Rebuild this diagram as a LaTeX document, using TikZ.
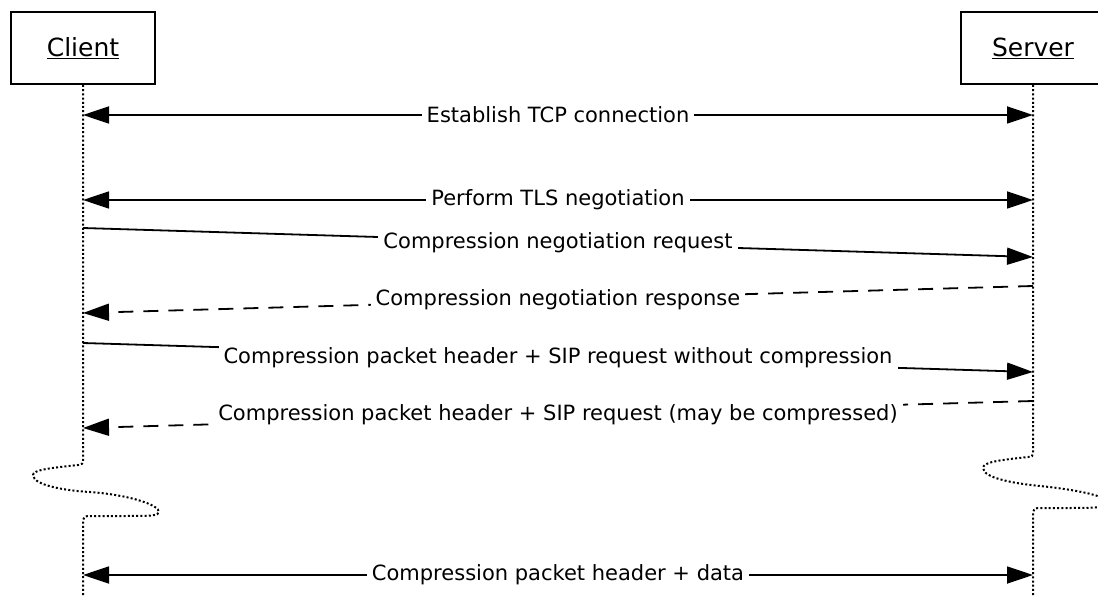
\documentclass[tikz,border=0pt]{standalone}
\usepackage{fontspec}
\setmainfont{DejaVu Sans}
\usetikzlibrary{arrows.meta}
\begin{document}
\begin{tikzpicture}[x=1pt,y=-1pt,
  actor/.style={draw,line width=2pt,minimum width=144pt,minimum height=72pt,inner sep=0pt,font=\fontsize{25}{30}\selectfont},
  life/.style={line width=2pt,dash pattern=on 2pt off 2.2pt},
  msg/.style={line width=1.8pt},
  tip/.style={-{Triangle[length=26pt,width=17pt]}},
  both/.style={{Triangle[length=26pt,width=17pt]}-{Triangle[length=26pt,width=17pt]}},
  reply/.style={line width=1.8pt,dash pattern=on 15pt off 10pt},
  lbl/.style={fill=white,inner xsep=5pt,inner ysep=2pt,font=\fontsize{21}{25}\selectfont}]
\useasboundingbox (0,0) rectangle (1098,596);
\node[actor] (client) at (83,48) {\underline{Client}};
\node[actor] (server) at (1033,48) {\underline{Server}};
% lifelines with breaks
\coordinate (cbot) at (83,596);
\coordinate (sbot) at (1033,596);
\draw[life] (client.south) -- (83,461) .. controls (83,464) and (82,464) .. (78,465)
  .. controls (50,468) and (33,470) .. (33,475) .. controls (33,486) and (70,491) .. (90,492)
  .. controls (130,495) and (159,505) .. (159,512) .. controls (159,516) and (150,516) .. (120,516)
  -- (90,516) .. controls (85,516) and (83,517) .. (83,520) -- (cbot);
\draw[life] (server.south) -- (1033,453) .. controls (1033,456) and (1032,457) .. (1028,457)
  .. controls (1000,460) and (983,462) .. (983,468) .. controls (983,479) and (1020,484) .. (1040,486)
  .. controls (1080,490) and (1109,497) .. (1109,503) .. controls (1109,507) and (1100,508) .. (1070,508)
  -- (1040,508) .. controls (1035,508) and (1033,509) .. (1033,512) -- (sbot);
% message end points
\coordinate (c1) at (83,115);  \coordinate (s1) at (1033,115);
\coordinate (c2) at (83,200);  \coordinate (s2) at (1033,200);
\coordinate (c3) at (83,228);  \coordinate (s3) at (1033,257);
\coordinate (c4) at (83,313);  \coordinate (s4) at (1033,286);
\coordinate (c5) at (83,343);  \coordinate (s5) at (1033,372);
\coordinate (c6) at (83,428);  \coordinate (s6) at (1033,401);
\coordinate (c7) at (83,575);  \coordinate (s7) at (1033,575);
\draw[msg,both] (c1) -- node[lbl] (m1) {Establish TCP connection} (s1);
\draw[msg,both] (c2) -- node[lbl] (m2) {Perform TLS negotiation} (s2);
\draw[msg,tip] (c3) -- node[lbl] (m3) {Compression negotiation request} (s3);
\draw[reply,tip] (s4) -- node[lbl] (m4) {Compression negotiation response} (c4);
\draw[msg,tip] (c5) -- node[lbl] (m5) {Compression packet header + SIP request without compression} (s5);
\draw[reply,tip] (s6) -- node[lbl] (m6) {Compression packet header + SIP request (may be compressed)} (c6);
\draw[msg,both] (c7) -- node[lbl] (m7) {Compression packet header + data} (s7);
\end{tikzpicture}
\end{document}
